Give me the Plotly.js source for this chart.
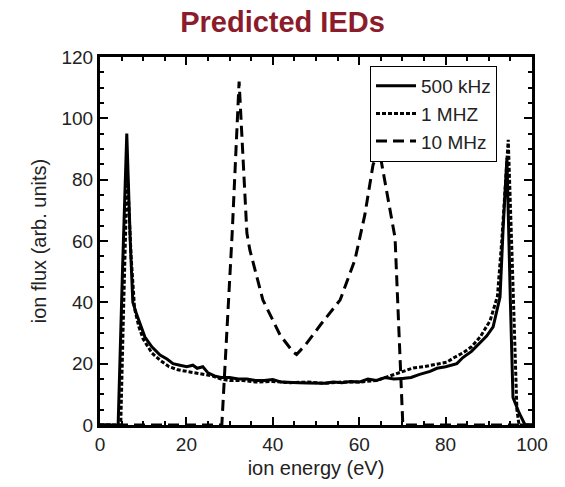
<!DOCTYPE html>
<html>
<head>
<meta charset="utf-8">
<script src="https://cdn.plot.ly/plotly-3.0.1.min.js"></script>
<style>
  html, body { margin: 0; padding: 0; background: #fff; }
  #chart { width: 565px; height: 487px; }
</style>
</head>
<body>
<div id="chart"></div>
<script>
// Ion energy distributions at three bias frequencies
const energy500k = [0, 4.2, 5.2, 6.2, 7.0, 7.6, 8.5, 9.3, 10.4, 12, 13.9, 15.5, 16.9, 18.5, 20.1, 21.5, 22.5, 23.8, 25, 26.5, 28, 30, 32, 34, 36, 38, 40, 42, 44, 46, 48, 50, 52, 54, 56, 58, 60, 62, 64, 66, 68, 70, 72, 74, 76.4, 78, 80, 82.6, 84, 86, 87.9, 89.5, 91, 92.6, 93.3, 94.2, 95, 95.6, 97, 98.4, 100];
const flux500k = [0, 0, 50, 95, 60, 40, 36, 33, 28.7, 25.5, 22.8, 21.5, 20, 19.5, 19, 19.5, 18.5, 19, 17, 16, 15.5, 15.5, 15, 15, 14.5, 14.5, 14.8, 14, 14, 13.8, 13.7, 13.7, 13.6, 14, 13.8, 14.2, 14, 15, 14.5, 15.5, 15, 15.2, 15.5, 16.5, 17.5, 18.5, 19, 20, 22, 24, 26.7, 29, 32, 41.7, 63.6, 87, 40, 9, 4, 0, 0];

const energy1M = [0, 4.8, 5.5, 6.3, 7.2, 8, 9, 10, 12, 14, 16, 18, 20, 22, 24, 26, 28, 30, 33, 36, 40, 44, 48, 52, 56, 60, 64, 66, 68, 70, 72.5, 75, 77, 80.3, 82, 84, 86, 88, 90.3, 92, 93, 94.5, 95.5, 96.5, 97, 100];
const flux1M = [0, 0, 40, 83, 55, 38, 32, 28, 23.5, 21, 19, 18, 17.5, 17, 16.5, 16, 15, 14.5, 14.5, 14, 14.2, 13.8, 14, 13.6, 14, 14, 14.5, 15.5, 16.5, 17.5, 18.6, 19, 19.5, 20.5, 22, 23.5, 25.5, 28.7, 34, 42, 60, 93, 50, 5, 0, 0];

const energy10M = [0, 28.2, 30.6, 32.2, 34, 34.7, 37.7, 41.7, 44.7, 45.5, 47.5, 51, 55.6, 59, 61.3, 63.2, 64.6, 68.3, 70.1, 100];
const flux10M = [0, 0, 62.6, 112, 62.6, 57, 40.8, 29.3, 23.8, 23, 26, 32.6, 40.8, 53.8, 68.5, 84.8, 90, 61, 0, 0];

const seriesNames = ['500 kHz', '1 MHZ', '10 MHz'];

const traces = [
  { x: energy500k, y: flux500k, name: seriesNames[0], mode: 'lines',
    line: { color: '#000', width: 3, dash: 'solid' } },
  { x: energy1M, y: flux1M, name: seriesNames[1], mode: 'lines',
    line: { color: '#000', width: 3, dash: '4px,2px' } },
  { x: energy10M, y: flux10M, name: seriesNames[2], mode: 'lines',
    line: { color: '#000', width: 3, dash: '11px,6px' } }
];

const axisCommon = {
  showgrid: false, zeroline: false,
  showline: true, linecolor: '#000', linewidth: 3, mirror: 'ticks',
  ticks: 'inside', ticklen: 8, tickwidth: 2, tickcolor: '#000',
  tickfont: { family: 'Liberation Sans, Arial, sans-serif', size: 19, color: '#222' },
  minor: { dtick: 5, ticks: 'inside', ticklen: 4, tickwidth: 2, tickcolor: '#000' }
};

const layout = {
  width: 565, height: 487,
  margin: { l: 100, r: 33, t: 57, b: 62 },
  paper_bgcolor: '#fff', plot_bgcolor: '#fff',
  title: {
    text: '<b>Predicted IEDs</b>',
    font: { family: 'Liberation Sans, Arial, sans-serif', size: 29, color: '#8B1C2B' },
    x: 0.5, xanchor: 'center', y: 0.955, yanchor: 'middle', yref: 'container'
  },
  xaxis: Object.assign({}, axisCommon, {
    range: [0, 100], dtick: 20, tick0: 0,
    title: { text: 'ion energy (eV)', standoff: 8,
      font: { family: 'Liberation Sans, Arial, sans-serif', size: 20, color: '#222' } }
  }),
  yaxis: Object.assign({}, axisCommon, {
    range: [0, 120], dtick: 20, tick0: 0,
    title: { text: 'ion flux (arb. units)', standoff: 10,
      font: { family: 'Liberation Sans, Arial, sans-serif', size: 20, color: '#222' } }
  }),
  showlegend: true,
  legend: {
    x: 0.919, xanchor: 'right', y: 0.976, yanchor: 'top',
    bgcolor: '#fff', bordercolor: '#000', borderwidth: 1,
    font: { family: 'Liberation Sans, Arial, sans-serif', size: 19, color: '#222' },
    tracegroupgap: 0, itemwidth: 40
  }
};

Plotly.newPlot('chart', traces, layout, { displayModeBar: false, staticPlot: true });
</script>
</body>
</html>
